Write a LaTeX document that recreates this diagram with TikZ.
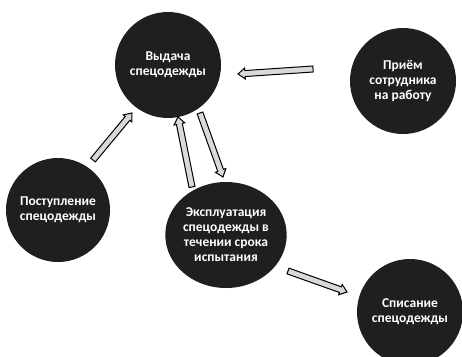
\documentclass[tikz,border=0pt]{standalone}
\usepackage{fontspec}
\setmainfont{Carlito}
\usetikzlibrary{calc,shapes.geometric}
\tikzset{
  stage/.style={circle, fill=black!88, text=white, align=center,
    font=\fontsize{13.5}{15}\selectfont\bfseries, inner sep=0pt, minimum size=106pt},
  stageoval/.style={stage, ellipse, minimum width=118pt, minimum height=106pt},
  blockarr/.style={draw=black, line width=1pt, fill=black!15, line join=miter}
}
\newcommand\blockarrow[2]{%
  \coordinate (hb#1#2) at ($(#2)!7pt!(#1)$);
  \path[blockarr]
    ($(#1)!3pt!90:(#2)$) -- ($(hb#1#2)!3pt!90:(#2)$) -- ($(hb#1#2)!5.5pt!90:(#2)$)
    -- (#2)
    -- ($(hb#1#2)!5.5pt!-90:(#2)$) -- ($(hb#1#2)!3pt!-90:(#2)$) -- ($(#1)!3pt!-90:(#2)$) -- cycle;}
\begin{document}
\begin{tikzpicture}[x=1pt,y=-1pt]
\useasboundingbox[fill=white] (0,0) rectangle (462,356);
\node[stage] (vyd) at (168,65) {Выдача\\спецодежды};
\node[stage] (prm) at (403,81) {Приём\\сотрудника\\на работу};
\node[stage, minimum size=104pt] (pst) at (58,210) {Поступление\\спецодежды};
\node[stageoval] (eks) at (226,235) {Эксплуатация\\спецодежды в\\течении срока\\испытания};
\node[stage] (spi) at (410,312) {Списание\\спецодежды};
% arrow end points
\coordinate (a1) at (313,69);  \coordinate (b1) at (238,74);
\coordinate (a2) at (93,160);  \coordinate (b2) at (132,113);
\coordinate (a3) at (192,187); \coordinate (b3) at (178,117);
\coordinate (a4) at (200,113); \coordinate (b4) at (223,177);
\coordinate (a5) at (288,271); \coordinate (b5) at (347,292);
\blockarrow{a1}{b1}
\blockarrow{a2}{b2}
\blockarrow{a3}{b3}
\blockarrow{a4}{b4}
\blockarrow{a5}{b5}
\end{tikzpicture}
\end{document}
